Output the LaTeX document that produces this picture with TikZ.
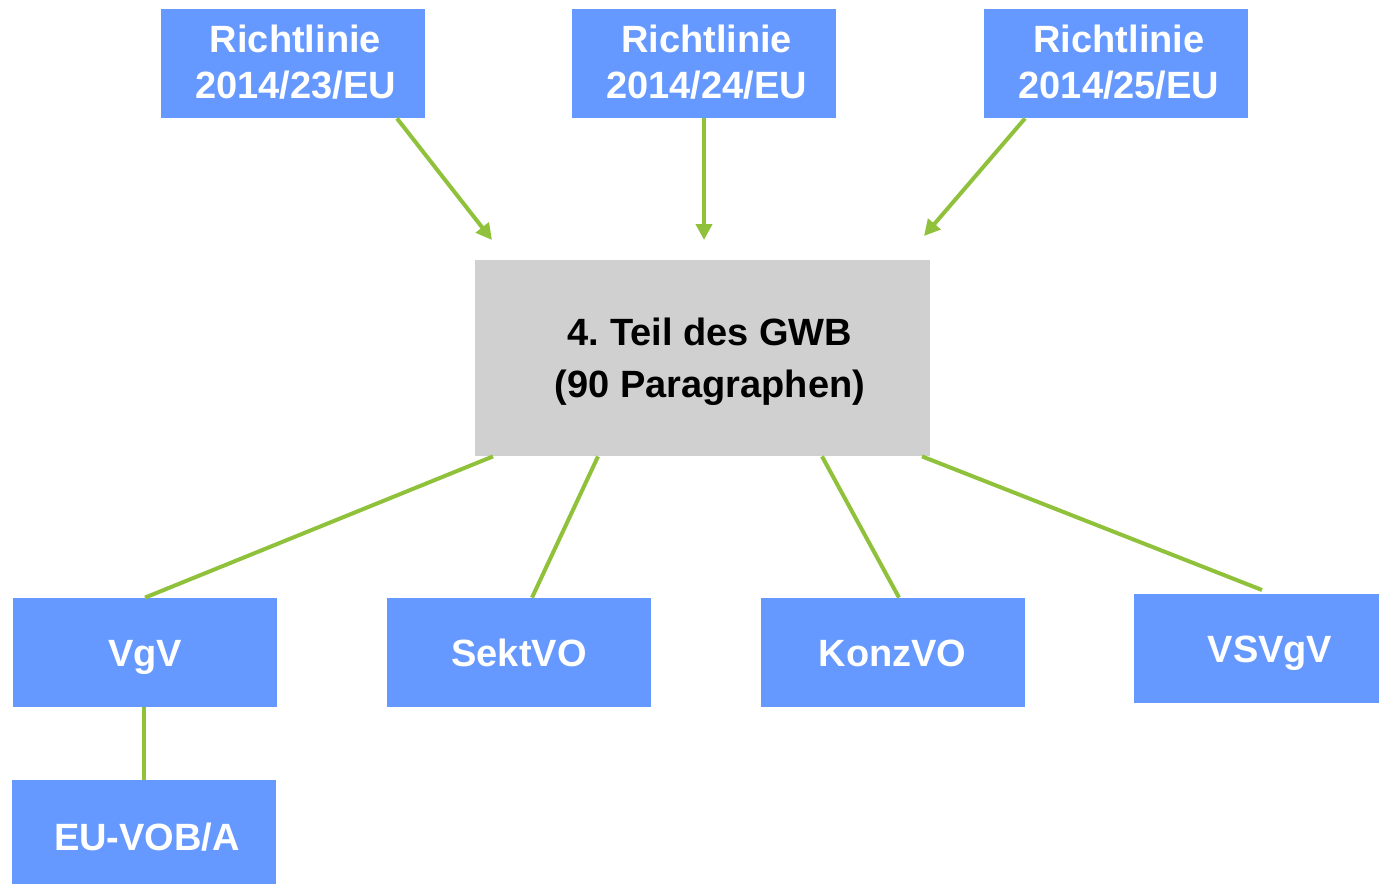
\documentclass[tikz,border=0pt]{standalone}
\usepackage{fontspec}
\setmainfont{Liberation Sans}
\frenchspacing
\usetikzlibrary{arrows.meta}
\definecolor{boxblau}{HTML}{6699FF}
\definecolor{boxgrau}{HTML}{D0D0D0}
\definecolor{liniegruen}{HTML}{8FC13A}
\begin{document}
\begin{tikzpicture}[x=0.5pt, y=-0.5pt,
    blau/.style={fill=boxblau, text=white, font=\bfseries\fontsize{19pt}{23pt}\selectfont,
        inner sep=0pt, minimum width=132pt, minimum height=54.5pt, align=center,
        text height=14.5pt, text depth=1pt},
    zweizeilig/.style={text height=36pt, text depth=1.5pt},
    grau/.style={fill=boxgrau, text=black, font=\bfseries\fontsize{19pt}{26pt}\selectfont,
        inner sep=0pt, minimum width=227.5pt, minimum height=98pt, align=center,
        text height=40pt, text depth=1pt},
    linie/.style={liniegruen, line width=2pt},
    pfeil/.style={linie, -{Triangle[length=8pt,width=8pt]}}]
        \useasboundingbox (0,0) rectangle (1379,884);

        % Richtlinien oben
        \node[blau, zweizeilig] (rl23) at (292.5,63.5) {\hspace*{3pt}Richtlinie\\\hspace*{3pt}2014/23/EU};
        \node[blau, zweizeilig] (rl24) at (703.5,63.5) {\hspace*{3pt}Richtlinie\\\hspace*{3pt}2014/24/EU};
        \node[blau, zweizeilig] (rl25) at (1116,63.5) {\hspace*{3pt}Richtlinie\\\hspace*{3pt}2014/25/EU};

        % GWB
        \node[grau] (gwb) at (702.5,358) {\hspace*{7.5pt}4. Teil des GWB\\\hspace*{7.5pt}(90 Paragraphen)};

        % Verordnungen unten
        \node[blau] (vgv) at (145,652.5) {VgV};
        \node[blau] (sektvo) at (519,652.5) {SektVO};
        \node[blau] (konzvo) at (892.5,652.5) {KonzVO};
        \node[blau, minimum width=122.5pt] (vsvgv) at (1256.5,648.5) {\hspace*{13.5pt}VSVgV};
        \node[blau, minimum height=52pt, text height=19pt] (euvob) at (144,832) {\hspace*{3pt}EU-VOB/A};

        % Pfeile
        \coordinate (e23) at (492,240);
        \coordinate (e24) at (704,240);
        \coordinate (e25) at (924,236);
        \coordinate (evs) at (1262,590);
        \draw[pfeil] (rl23.south -| 397,0) -- (e23);
        \draw[pfeil] (rl24.south -| 704,0) -- (e24);
        \draw[pfeil] (rl25.south -| 1025,0) -- (e25);

        % Linien
        \draw[linie] (gwb.south -| 493,0) -- (vgv.north);
        \draw[linie] (gwb.south -| 598,0) -- (sektvo.north -| 532,0);
        \draw[linie] (gwb.south -| 822,0) -- (konzvo.north -| 899,0);
        \draw[linie] (gwb.south -| 922,0) -- (evs);
        \draw[linie] (vgv.south -| 144,0) -- (euvob.north);
    \end{tikzpicture}
\end{document}
